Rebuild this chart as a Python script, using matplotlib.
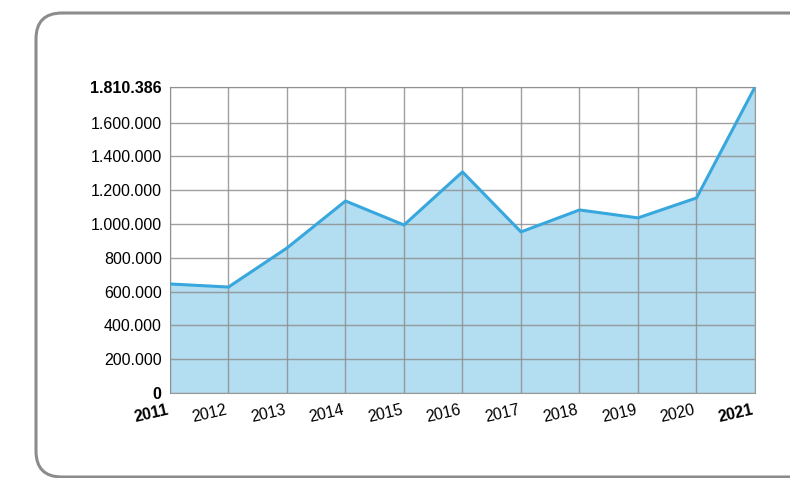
import matplotlib.pyplot as plt
from matplotlib.patches import FancyBboxPatch

years = [2011, 2012, 2013, 2014, 2015, 2016, 2017, 2018, 2019, 2020, 2021]
values = [645000, 627000, 858000, 1136000, 994000, 1308000, 953000, 1083000, 1036000, 1154000, 1810386]
ytick_vals = [0, 200000, 400000, 600000, 800000, 1000000, 1200000, 1400000, 1600000, 1810386]
ytick_labels = ['0', '200.000', '400.000', '600.000', '800.000', '1.000.000',
                '1.200.000', '1.400.000', '1.600.000', '1.810.386']

plt.rcParams['font.family'] = ['Liberation Sans', 'DejaVu Sans']

fig = plt.figure(figsize=(7.9, 4.78), dpi=100)

# rounded frame in pixel coords
bg = fig.add_axes([0, 0, 1, 1])
bg.set_xlim(0, 790)
bg.set_ylim(478, 0)
bg.axis('off')
bg.add_patch(FancyBboxPatch((36, 13), 820, 464, boxstyle="round,pad=0,rounding_size=26",
                            fc='none', ec='#8c8c8c', lw=2.2))

ax = fig.add_axes([170/790, 1-393/478, 585/790, 306/478])
ax.fill_between(years, values, 0, color='#b3ddf0', lw=0, zorder=1)
ax.plot(years, values, color='#38a7de', lw=2.2, zorder=3)
ax.set_xlim(2011, 2021)
ax.set_ylim(0, 1810386)
ax.set_axisbelow(False)
ax.grid(True, color='#8f8f8f', lw=1, alpha=0.85, zorder=2)
for s in ax.spines.values():
    s.set_color('#999999')
    s.set_zorder(2)

ax.set_yticks(ytick_vals)
ax.set_yticklabels(ytick_labels, fontsize=11.5)
ax.set_xticks(years)
ax.set_xticklabels([str(y) for y in years], fontsize=11.5, rotation=13, ha='right')
ax.tick_params(length=0, pad=6)
ax.tick_params(axis='x', pad=7)
for i in (0, -1):
    ax.get_yticklabels()[i].set_fontweight('bold')
    ax.get_xticklabels()[i].set_fontweight('bold')

fig.savefig('out.png', dpi=100)
